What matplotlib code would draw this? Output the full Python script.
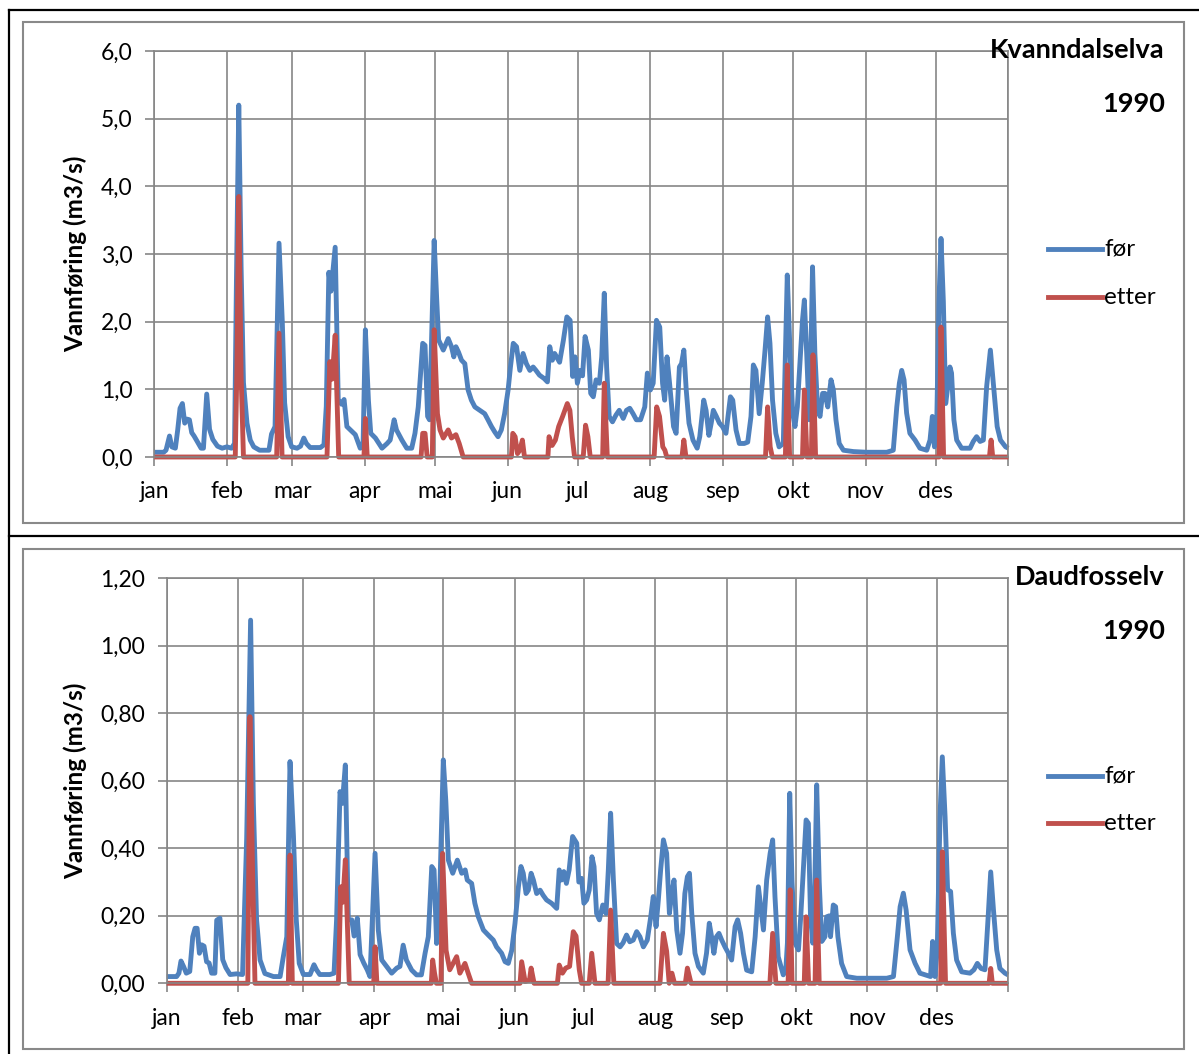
import matplotlib
matplotlib.use("Agg")
import matplotlib.pyplot as plt
from matplotlib.lines import Line2D
from matplotlib.patches import Rectangle
from matplotlib.ticker import FuncFormatter

W, H = 1199, 1054

month_labels = ['jan', 'feb', 'mar', 'apr', 'mai', 'jun', 'jul', 'aug', 'sep', 'okt', 'nov', 'des']
month_starts = [0, 31, 59, 90, 120, 151, 181, 212, 243, 273, 304, 334, 365]
series_names = ['før', 'etter']

# Kvanndalselva 1990, (day of year, m3/s)
kv_for = [(0,0.07),(4,0.07),(5,0.1),(6.5,0.31),(7.5,0.15),(9,0.13),(10,0.4),(11,0.72),(12,0.79),(13,0.5),
 (14,0.56),(15,0.55),(16,0.36),(17,0.31),(18.5,0.22),(20,0.13),(21,0.13),(22.4,0.93),(23.6,0.41),(25,0.26),
 (27,0.16),(29,0.13),(31,0.15),(33,0.13),(34.3,0.2),(35.1,2.6),(36.1,5.2),(37.1,2.8),(38.1,1.1),(39.6,0.5),
 (41,0.25),(42.5,0.15),(45,0.1),(49,0.1),(50.1,0.34),(51.6,0.45),(53.3,3.16),(54.7,2.0),(55.7,0.8),(57.2,0.3),
 (58.7,0.15),(61,0.13),(62.5,0.16),(63.9,0.28),(65,0.2),(66.6,0.14),(71,0.14),(72.5,0.18),(73.5,0.75),(74.6,2.73),
 (75.5,2.45),(77.3,3.1),(78.6,0.85),(80,0.78),(81.1,0.85),(82.3,0.45),(83.8,0.40),(85.9,0.33),(88,0.13),(89.2,0.15),
 (90.2,1.88),(91.5,0.84),(92.5,0.35),(94.5,0.28),(97.3,0.13),(99.5,0.2),(100.8,0.25),(102.5,0.55),(103.5,0.4),(105.8,0.25),
 (107.9,0.13),(110,0.13),(111.4,0.35),(112.8,0.74),(114.7,1.68),(115.7,1.65),(116.8,0.6),(117.6,0.55),(119.6,3.2),(120.7,2.32),
 (121.5,1.73),(123.5,1.58),(125.6,1.75),(127,1.63),(128,1.48),(128.9,1.63),(130,1.55),(131.3,1.43),(132.7,1.38),(134.1,0.99),
 (135.5,0.84),(137,0.74),(139.1,0.69),(141.2,0.64),(142.6,0.55),(144.1,0.45),(145.5,0.37),(146.9,0.3),(148.3,0.4),(149.7,0.64),
 (151.2,0.99),(152.2,1.33),(153.4,1.68),(154.8,1.63),(156.2,1.28),(157.6,1.53),(159,1.38),(160.5,1.28),(161.9,1.33),(163.1,1.28),
 (164.6,1.21),(166.6,1.16),(168,1.11),(169,1.63),(170.1,1.43),(171.1,1.53),(173.2,1.40),(174.8,1.72),(176.3,2.07),(177.7,2.02),
 (178.8,1.19),(179.8,1.48),(180.8,1.09),(181.9,1.28),(183,1.2),(184.1,1.78),(185.5,1.58),(186.5,0.94),(187.6,0.89),(188.8,1.14),
 (190.2,1.09),(191.2,1.48),(192.3,2.42),(193.3,1.33),(194.4,0.6),(195.8,0.52),(197.3,0.62),(198.7,0.69),(200.4,0.57),(201.8,0.69),
 (203.2,0.72),(204.6,0.64),(206,0.55),(207.8,0.55),(209.6,0.74),(210.7,1.24),(212,0.99),(213.2,1.09),(214.6,2.02),(216,1.92),
 (217.2,1.09),(218.1,0.84),(219.1,1.48),(220.2,1.09),(221.9,0.45),(223,0.35),(224.4,1.33),(225.3,1.38),(226.3,1.58),(227.3,1.0),
 (228.5,0.5),(230.2,0.25),(232,0.13),(233.1,0.3),(234.8,0.84),(235.8,0.69),(237,0.32),(238,0.5),(238.9,0.69),(240.2,0.6),
 (241.5,0.5),(242.8,0.45),(244.3,0.35),(246.2,0.89),(247.2,0.84),(248.6,0.4),(250,0.2),(252.1,0.2),(253.6,0.22),(255,0.6),
 (256,1.36),(257.1,1.28),(258.5,0.64),(259.8,1.09),(261,1.58),(262.1,2.07),(263.1,1.68),(264.2,0.84),(265.6,0.35),(267,0.15),
 (268.8,0.2),(270.5,2.69),(271.7,1.53),(272.8,0.65),(273.8,0.45),(274.8,0.74),(276,1.43),(277,2.02),(277.8,2.32),(278.8,1.53),
 (279.9,0.55),(280.6,1.53),(281.3,2.81),(282.3,1.53),(283.5,0.69),(284.5,0.6),(285.6,0.94),(286.6,0.94),(287.8,0.74),(289.2,1.14),
 (290.2,0.99),(291.3,0.55),(292.7,0.2),(294.5,0.1),(298.8,0.08),(304.4,0.07),(313,0.07),(315.8,0.1),(317.3,0.74),(318.4,1.09),
 (319.4,1.28),(320.4,1.14),(321.5,0.65),(322.9,0.35),(325.1,0.25),(327.2,0.13),(330.1,0.1),(331.5,0.25),(332.5,0.6),(333.4,0.15),
 (334.4,0.55),(335.3,2.27),(336.2,3.23),(337.2,2.3),(338.2,0.79),(339.1,1.04),(340,1.33),(340.7,1.24),(341.7,0.55),(342.9,0.25),
 (345,0.13),(348.6,0.13),(350,0.23),(351.4,0.3),(352.9,0.23),(354.3,0.25),(355.7,1.04),(357.3,1.58),(358.7,1.04),(360.2,0.45),
 (361.6,0.25),(363.8,0.15),(365,0.13)]

kv_etter = [(0,0),(34.6,0),(35.3,1.3),(36.1,3.85),(37.1,1.2),(38.1,0),(52.3,0),(53.3,1.83),(54.6,0),(73.8,0),
 (75,1.41),(76,1.15),(77.3,1.8),(78.8,0),(89.6,0),(90.2,0.57),(91,0),(114,0),(114.7,0.35),(115.7,0.35),
 (116.6,0),(118.8,0),(119.6,1.88),(121,0.64),(122.1,0.4),(123.5,0.28),(125.6,0.4),(127,0.28),(128.9,0.33),(130.3,0.2),
 (132,0),(152.6,0),(153.2,0.35),(154.2,0.3),(155.2,0.05),(156.2,0.1),(157.3,0.25),(158.2,0),(168.2,0),(168.7,0.3),
 (170,0.17),(171.4,0.25),(172.8,0.45),(174.5,0.6),(176.5,0.79),(177.6,0.69),(178.6,0.3),(179.6,0),(183.3,0),(184.3,0.47),
 (185.3,0.3),(186.3,0),(191.6,0),(192.3,1.09),(193.6,0),(213.6,0),(214.7,0.74),(215.9,0.6),(217.3,0.15),(218.2,0.1),
 (219,0),(225.5,0),(226.3,0.25),(227.2,0),(261.2,0),(262.1,0.74),(263.2,0.15),(264.1,0),(269.7,0),(270.5,1.36),
 (271.5,0),(277,0),(277.8,0.99),(278.9,0),(280.8,0),(281.5,1.51),(282.6,0),(335.4,0),(336.2,1.92),(337.3,0),
 (356.9,0),(357.6,0.25),(358.3,0),(365,0)]

# Daudfosselv 1990, (day of year, m3/s)
daud_for = [(0,0.02),(4.3,0.02),(5.3,0.03),(6.2,0.066),(7.3,0.05),(8.5,0.03),(10,0.035),(11.3,0.138),(12.3,0.163),(13.2,0.163),
 (14.2,0.089),(15.2,0.114),(16.2,0.11),(17.3,0.064),(18.4,0.06),(19.5,0.03),(20.9,0.03),(21.7,0.187),(23.1,0.193),(24.3,0.07),
 (25.7,0.046),(27.5,0.026),(30.3,0.028),(32.9,0.026),(34.7,0.43),(36.4,1.076),(37.6,0.533),(39,0.188),(40.5,0.069),(42.6,0.029),
 (46.3,0.02),(49.2,0.02),(50.6,0.079),(52.1,0.138),(53.5,0.657),(55,0.435),(56.2,0.19),(57.5,0.059),(59.3,0.026),(62.2,0.026),
 (63.9,0.055),(65,0.04),(66.4,0.026),(70.8,0.026),(72.6,0.03),(73.7,0.188),(75.2,0.568),(76.2,0.533),(77.5,0.647),(78.8,0.188),
 (80.3,0.188),(81.3,0.14),(82.7,0.193),(83.9,0.085),(85.5,0.06),(87,0.04),(88.2,0.02),(90.4,0.385),(91.8,0.158),(93.3,0.069),
 (95.4,0.05),(97.6,0.03),(99.8,0.045),(101.2,0.05),(102.6,0.113),(104,0.069),(106.3,0.039),(108.4,0.025),(110.5,0.025),(112.1,0.089),
 (113.5,0.138),(115,0.346),(116,0.336),(117.1,0.118),(118.2,0.2),(120,0.662),(121.1,0.54),(122.2,0.365),(124.1,0.326),(126.1,0.365),
 (128,0.326),(129.5,0.336),(130.4,0.306),(132.3,0.296),(133.7,0.237),(135.2,0.197),(137.4,0.158),(139.5,0.143),(141.7,0.128),(143.1,0.108),
 (145.3,0.089),(146.8,0.064),(148.2,0.059),(149.7,0.098),(151.1,0.177),(152.6,0.286),(153.7,0.346),(154.7,0.326),(155.9,0.266),(156.9,0.276),
 (158.1,0.326),(159.1,0.306),(160.5,0.266),(162,0.276),(163.3,0.261),(164.8,0.247),(167,0.237),(169.2,0.222),(170.3,0.336),(171.3,0.306),
 (172.3,0.331),(173.4,0.296),(174.6,0.336),(176.1,0.435),(177.9,0.415),(178.8,0.3),(180,0.311),(181,0.237),(182.2,0.247),(183.3,0.276),
 (184.5,0.375),(185.4,0.346),(186.5,0.207),(187.7,0.188),(189.2,0.232),(190.6,0.207),(191.6,0.336),(192.6,0.504),(193.8,0.306),(195.2,0.118),
 (196.7,0.108),(198,0.12),(199.5,0.143),(200.9,0.123),(202.4,0.128),(203.9,0.153),(205.3,0.138),(206.8,0.108),(208.5,0.128),(210,0.197),
 (211.1,0.257),(212.3,0.168),(213.3,0.247),(214.3,0.336),(215.5,0.425),(216.9,0.385),(218.1,0.207),(219.1,0.266),(220.1,0.306),(221.3,0.158),
 (222.7,0.089),(223.8,0.148),(224.8,0.266),(225.9,0.316),(226.8,0.326),(227.8,0.207),(229.2,0.089),(230.7,0.05),(232.8,0.03),(234.2,0.089),
 (235.4,0.178),(236.4,0.138),(237.4,0.089),(238.5,0.138),(239.6,0.148),(240.8,0.128),(242.2,0.108),(243.7,0.089),(245.1,0.069),(246.6,0.168),
 (247.7,0.188),(249,0.148),(250.2,0.089),(251.6,0.039),(253.8,0.034),(255.3,0.138),(256.7,0.286),(257.7,0.227),(258.9,0.158),(260.3,0.306),
 (261.8,0.385),(262.9,0.425),(263.9,0.257),(265.3,0.079),(267.5,0.025),(268.6,0.04),(269.3,0.12),(270.3,0.563),(271.3,0.3),(272.6,0.119),
 (274.1,0.099),(275.1,0.2),(276.3,0.35),(277.4,0.484),(278.4,0.474),(279.3,0.2),(280.3,0.119),(281.2,0.3),(282,0.588),(283.1,0.3),
 (284.2,0.124),(285.6,0.138),(286.3,0.197),(287.5,0.2),(288,0.138),(289.2,0.232),(290.2,0.227),(291.2,0.138),(292.8,0.059),(295,0.02),
 (299.4,0.015),(312.4,0.015),(315.3,0.02),(317,0.138),(318.2,0.227),(319.6,0.267),(320.8,0.217),(322.5,0.099),(324.7,0.059),(326.8,0.03),
 (331.4,0.02),(332.3,0.124),(333.3,0.02),(334.3,0.099),(335.5,0.494),(336.5,0.671),(337.7,0.494),(338.8,0.277),(340.1,0.272),(341.3,0.148),
 (342.7,0.069),(344.9,0.034),(348.5,0.03),(350.2,0.04),(351.7,0.059),(353.3,0.044),(355,0.04),(356.4,0.198),(357.5,0.33),(358.7,0.217),
 (360.1,0.099),(361.5,0.044),(363.7,0.03),(365,0.025)]

daud_etter = [(0,0),(35.2,0),(36.1,0.79),(37.2,0.35),(38.3,0),(52.8,0),(53.5,0.38),(54.5,0),(74.5,0),(75.5,0.286),
 (76.4,0.24),(77.5,0.366),(79.2,0),(89.8,0),(90.4,0.108),(91.2,0),(114.8,0),(115.4,0.069),(116.2,0.03),(117,0),
 (119,0),(119.7,0.385),(121.2,0.098),(122.8,0.04),(125.8,0.079),(127.2,0.03),(129.4,0.059),(130.8,0.03),(132.3,0),(153.3,0),
 (154,0.064),(155.5,0.005),(157.4,0.01),(158.1,0.045),(159.4,0),(169.5,0),(170.3,0.054),(171.7,0.03),(173.1,0.045),(174.8,0.05),
 (176.4,0.153),(177.6,0.14),(179,0.04),(180,0),(183.3,0),(184.4,0.089),(185.8,0),(191.5,0),(192.6,0.217),(194,0),
 (214,0),(215.5,0.148),(216.9,0.095),(218,0),(219.2,0.03),(220.3,0),(225,0),(225.9,0.045),(227.5,0),(261.7,0),
 (262.9,0.148),(264.3,0),(269.6,0),(270.5,0.277),(271.3,0),(276.6,0),(277.4,0.197),(278.5,0),(281.3,0),(282,0.306),
 (283.1,0),(335.8,0),(336.5,0.39),(337.9,0),(356.8,0),(357.5,0.044),(358.2,0),(365,0)]

BLUE = '#4F81BD'
RED = '#C0504D'
GRID = '#868686'
FONT = 'Lato'
LW = 3.5

plt.rcParams['font.family'] = [FONT, 'DejaVu Sans']

fig = plt.figure(figsize=(W / 100, H / 100), dpi=100)


def fx(p):
    return p / W


def fy(p):
    return 1 - p / H


def panel(box, rect, ymax, ystep, ndec, for_data, etter_data, title, title_y, year_y, leg_y, ylabel_px):
    bx0, by0, bx1, by1 = box
    fig.add_artist(Rectangle((fx(bx0), fy(by1)), (bx1 - bx0) / W, (by1 - by0) / H,
                             transform=fig.transFigure, fill=False, ec='#898989', lw=1.5))
    l, t, r, b = rect
    ax = fig.add_axes([fx(l), fy(b), (r - l) / W, (b - t) / H])
    ax.set_xlim(0, 365)
    ax.set_ylim(0, ymax)
    ax.set_xticks(month_starts)
    ax.set_xticklabels(month_labels + [''])
    yt = [i * ystep for i in range(int(round(ymax / ystep)) + 1)]
    ax.set_yticks(yt)
    ax.yaxis.set_major_formatter(FuncFormatter(lambda v, p: f'{v:.{ndec}f}'.replace('.', ',')))
    ax.grid(True, color=GRID, lw=1.2)
    ax.set_axisbelow(True)
    for s in ax.spines.values():
        s.set_color(GRID)
        s.set_linewidth(1.2)
    ax.tick_params(axis='both', direction='out', length=6.5, width=1.2, color=GRID,
                   labelsize=16.5, labelcolor='black')
    ax.tick_params(axis='y', pad=9)
    ax.tick_params(axis='x', pad=11)
    for data, col, name in ((for_data, BLUE, series_names[0]), (etter_data, RED, series_names[1])):
        xs = [d for d, v in data]
        ys = [v for d, v in data]
        ax.plot(xs, ys, color=col, lw=LW, solid_joinstyle='round', solid_capstyle='butt',
                label=name, clip_on=False)
    ax.set_ylabel('Vannføring (m3/s)', fontsize=17.5, fontweight='bold')
    ax.yaxis.set_label_coords((ylabel_px - l) / (r - l), 0.5)
    fig.text(fx(1165), fy(title_y), title, ha='right', va='center', fontsize=19.5, fontweight='bold')
    fig.text(fx(1165), fy(year_y), '1990', ha='right', va='center', fontsize=19.5, fontweight='bold')
    for yy, col, name in ((leg_y[0], BLUE, series_names[0]), (leg_y[1], RED, series_names[1])):
        fig.add_artist(Line2D([fx(1048), fx(1102)], [fy(yy), fy(yy)], transform=fig.transFigure,
                              color=col, lw=LW))
        fig.text(fx(1104), fy(yy), name, ha='left', va='center', fontsize=17.5)
    return ax


panel((23, 22, 1184, 523), (154.3, 51, 1008.4, 457), 6.0, 1.0, 1, kv_for, kv_etter,
      'Kvanndalselva', 50, 104, (249, 297), 87)
panel((23, 549, 1184, 1049), (166.7, 578.3, 1008, 983.3), 1.2, 0.2, 2, daud_for, daud_etter,
      'Daudfosselv', 577, 631, (776, 823), 87)

for xs, ys in (([9, 1199], [10, 10]), ([9, 9], [10, 1054]), ([9, 1199], [535.5, 535.5])):
    fig.add_artist(Line2D([fx(x) for x in xs], [fy(y) for y in ys], transform=fig.transFigure,
                          color='black', lw=1.6))

fig.savefig('out.png', dpi=100)
